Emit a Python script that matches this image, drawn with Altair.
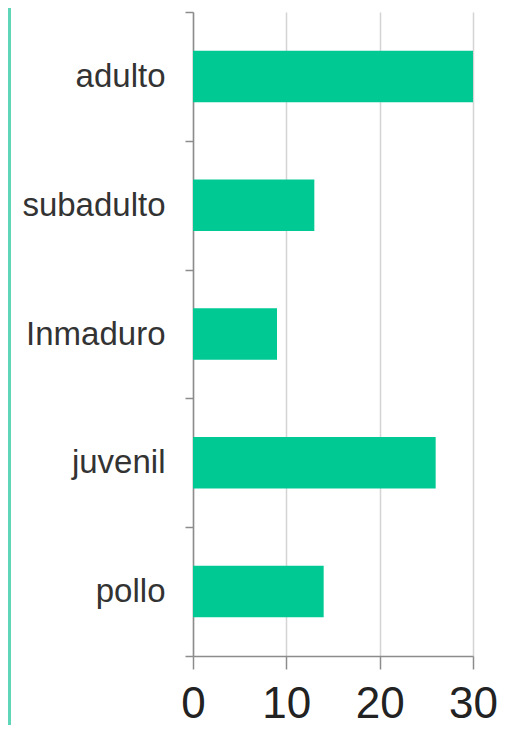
import altair as alt
import pandas as pd

categories = ["adulto", "subadulto", "Inmaduro", "juvenil", "pollo"]
values = [30, 13, 9, 26, 14]
x_ticks = [0, 10, 20, 30]

df = pd.DataFrame({"cat": categories, "val": values})

FONT = "Liberation Sans, Arial, sans-serif"

bars = alt.Chart(df).mark_bar(color="#00c994", height=alt.RelativeBandSize(0.4)).encode(
    y=alt.Y(
        "cat:N",
        sort=categories,
        scale=alt.Scale(paddingInner=0, paddingOuter=0),
        axis=alt.Axis(
            title=None,
            tickBand="extent",
            tickSize=8,
            tickColor="#8c8c8c",
            tickWidth=1.5,
            domainColor="#8c8c8c",
            domainWidth=1.5,
            labelFont=FONT,
            labelFontSize=33,
            labelColor="#333333",
            labelPadding=20,
            grid=False,
        ),
    ),
    x=alt.X(
        "val:Q",
        scale=alt.Scale(domain=[0, 30], nice=False),
        axis=alt.Axis(
            title=None,
            values=x_ticks,
            tickSize=13,
            tickColor="#8c8c8c",
            tickWidth=1.5,
            domainColor="#8c8c8c",
            domainWidth=1.5,
            gridColor="#d4d4d4",
            gridWidth=1.5,
            labelFont=FONT,
            labelFontSize=44,
            labelColor="#222222",
            labelPadding=13,
            labelFlush=False,
            labelOverlap=False,
        ),
    ),
)

border = alt.Chart(df).mark_rule(color="#5fd6b8", strokeWidth=2.5).encode(
    x=alt.value(-183.5),
    y=alt.value(-12),
    y2=alt.value(725),
)

chart = alt.layer(bars, border).properties(
    width=280,
    height=644,
    autosize=alt.AutoSizeParams(type="none"),
    padding={"left": 185, "top": 4, "right": 26, "bottom": 69},
    background="white",
).configure_view(stroke=None)

chart.save("out.html", embed_options={"renderer": "svg", "actions": False})
